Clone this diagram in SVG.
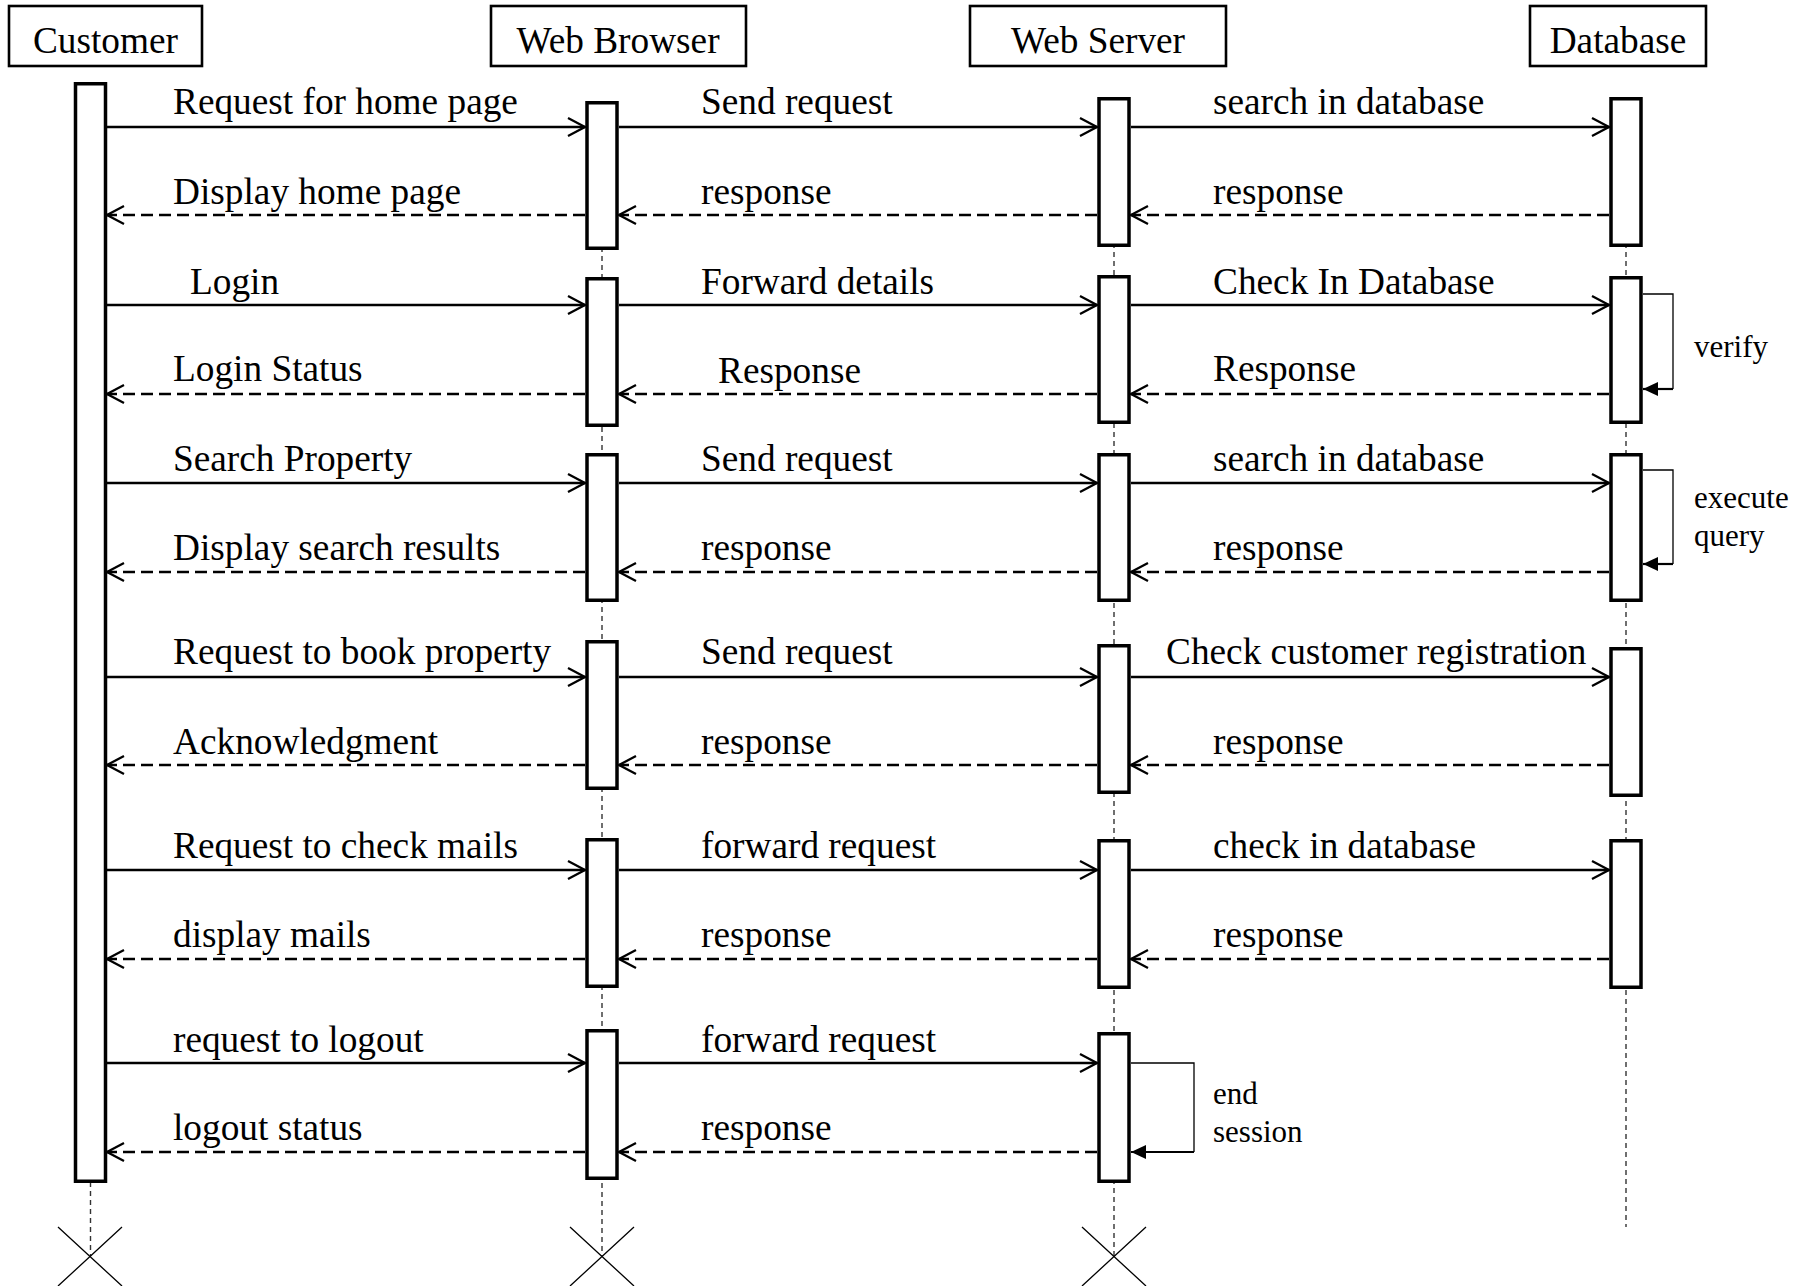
<svg xmlns="http://www.w3.org/2000/svg" width="1806" height="1286" viewBox="0 0 1806 1286">
<style>
.hdr{fill:#fff;stroke:#000;stroke-width:2.6}
.bar{fill:#fff;stroke:#000;stroke-width:3.5}
.life{stroke:#333;stroke-width:1.4;stroke-dasharray:5 4;fill:none}
.cross{stroke:#000;stroke-width:1.3;fill:none}
.msg{stroke:#000;stroke-width:2.3;fill:none;marker-end:url(#open)}
.ret{stroke:#000;stroke-width:2.4;fill:none;stroke-dasharray:12 6;marker-end:url(#open)}
.loop{stroke:#000;stroke-width:1.3;fill:none}
.loopend{stroke:#000;stroke-width:2.2;fill:none;marker-end:url(#solid)}
text{font-family:"Liberation Serif","Times New Roman",serif;fill:#000}
.t{font-size:37.3px}
.s{font-size:31px}
.h{font-size:37.3px;text-anchor:middle}
</style>
<defs>
<marker id="open" markerUnits="userSpaceOnUse" viewBox="0 0 22 22" markerWidth="22" markerHeight="22" refX="19" refY="11" orient="auto">
<path d="M2,2 L19,11 L2,20" fill="none" stroke="#000" stroke-width="2.3"/>
</marker>
<marker id="solid" markerUnits="userSpaceOnUse" viewBox="0 0 16 14" markerWidth="16" markerHeight="14" refX="15" refY="7" orient="auto">
<path d="M0,0 L15,7 L0,14 z" fill="#000"/>
</marker>
</defs>
<rect width="1806" height="1286" fill="#fff"/>

<g id="customer">
<line class="life" x1="90.5" y1="84" x2="90.5" y2="1256"/>
<rect class="hdr" x="9" y="6" width="193" height="60"/>
<text class="h" x="105.5" y="53">Customer</text>
<rect class="bar" x="75.5" y="83.75" width="30" height="1097.5"/>
<path class="cross" d="M58,1227 L122,1286 M122,1227 L58,1286"/>
</g>

<g id="web-browser">
<line class="life" x1="602" y1="103" x2="602" y2="1256"/>
<rect class="hdr" x="491" y="6" width="255" height="60"/>
<text class="h" x="618" y="53">Web Browser</text>
<rect class="bar" x="587" y="102.75" width="30" height="145.5"/>
<rect class="bar" x="587" y="278.75" width="30" height="146.5"/>
<rect class="bar" x="587" y="454.75" width="30" height="145.5"/>
<rect class="bar" x="587" y="641.75" width="30" height="146.5"/>
<rect class="bar" x="587" y="839.75" width="30" height="146.5"/>
<rect class="bar" x="587" y="1030.75" width="30" height="147.5"/>
<path class="cross" d="M570,1227 L634,1286 M634,1227 L570,1286"/>
</g>

<g id="web-server">
<line class="life" x1="1114" y1="99" x2="1114" y2="1256"/>
<rect class="hdr" x="970" y="6" width="256" height="60"/>
<text class="h" x="1098" y="53">Web Server</text>
<rect class="bar" x="1099" y="98.75" width="30" height="146.5"/>
<rect class="bar" x="1099" y="276.75" width="30" height="145.5"/>
<rect class="bar" x="1099" y="454.75" width="30" height="145.5"/>
<rect class="bar" x="1099" y="645.75" width="30" height="146.5"/>
<rect class="bar" x="1099" y="840.75" width="30" height="146.5"/>
<rect class="bar" x="1099" y="1033.75" width="30" height="147.5"/>
<path class="cross" d="M1082,1227 L1146,1286 M1146,1227 L1082,1286"/>
</g>

<g id="database">
<line class="life" x1="1626" y1="99" x2="1626" y2="1227"/>
<rect class="hdr" x="1530" y="6" width="176" height="60"/>
<text class="h" x="1618" y="53">Database</text>
<rect class="bar" x="1611" y="98.75" width="30" height="146.5"/>
<rect class="bar" x="1611" y="277.75" width="30" height="144.5"/>
<rect class="bar" x="1611" y="454.75" width="30" height="145.5"/>
<rect class="bar" x="1611" y="648.75" width="30" height="146.5"/>
<rect class="bar" x="1611" y="840.75" width="30" height="146.5"/>
</g>

<g id="connectors">
<line class="msg" x1="107" y1="127" x2="585" y2="127"/>
<line class="msg" x1="619" y1="127" x2="1097" y2="127"/>
<line class="msg" x1="1131" y1="127" x2="1609" y2="127"/>
<line class="ret" x1="1609" y1="215" x2="1131" y2="215"/>
<line class="ret" x1="1097" y1="215" x2="619" y2="215"/>
<line class="ret" x1="585" y1="215" x2="107" y2="215"/>

<line class="msg" x1="107" y1="305" x2="585" y2="305"/>
<line class="msg" x1="619" y1="305" x2="1097" y2="305"/>
<line class="msg" x1="1131" y1="305" x2="1609" y2="305"/>
<line class="ret" x1="1609" y1="394" x2="1131" y2="394"/>
<line class="ret" x1="1097" y1="394" x2="619" y2="394"/>
<line class="ret" x1="585" y1="394" x2="107" y2="394"/>
<path class="loop" d="M1643,294 H1673 V389"/>
<line class="loopend" x1="1673" y1="389" x2="1643" y2="389"/>

<line class="msg" x1="107" y1="483" x2="585" y2="483"/>
<line class="msg" x1="619" y1="483" x2="1097" y2="483"/>
<line class="msg" x1="1131" y1="483" x2="1609" y2="483"/>
<line class="ret" x1="1609" y1="572" x2="1131" y2="572"/>
<line class="ret" x1="1097" y1="572" x2="619" y2="572"/>
<line class="ret" x1="585" y1="572" x2="107" y2="572"/>
<path class="loop" d="M1643,470 H1673 V564"/>
<line class="loopend" x1="1673" y1="564" x2="1643" y2="564"/>

<line class="msg" x1="107" y1="677" x2="585" y2="677"/>
<line class="msg" x1="619" y1="677" x2="1097" y2="677"/>
<line class="msg" x1="1131" y1="677" x2="1609" y2="677"/>
<line class="ret" x1="1609" y1="765" x2="1131" y2="765"/>
<line class="ret" x1="1097" y1="765" x2="619" y2="765"/>
<line class="ret" x1="585" y1="765" x2="107" y2="765"/>

<line class="msg" x1="107" y1="870" x2="585" y2="870"/>
<line class="msg" x1="619" y1="870" x2="1097" y2="870"/>
<line class="msg" x1="1131" y1="870" x2="1609" y2="870"/>
<line class="ret" x1="1609" y1="959" x2="1131" y2="959"/>
<line class="ret" x1="1097" y1="959" x2="619" y2="959"/>
<line class="ret" x1="585" y1="959" x2="107" y2="959"/>

<line class="msg" x1="107" y1="1063" x2="585" y2="1063"/>
<line class="msg" x1="619" y1="1063" x2="1097" y2="1063"/>
<line class="ret" x1="1097" y1="1152" x2="619" y2="1152"/>
<line class="ret" x1="585" y1="1152" x2="107" y2="1152"/>
<path class="loop" d="M1131,1063 H1194 V1152"/>
<line class="loopend" x1="1194" y1="1152" x2="1131" y2="1152"/>
</g>

<g id="labels">
<text class="t" x="173" y="114">Request for home page</text>
<text class="t" x="701" y="114">Send request</text>
<text class="t" x="1213" y="114">search in database</text>
<text class="t" x="173" y="204">Display home page</text>
<text class="t" x="701" y="204">response</text>
<text class="t" x="1213" y="204">response</text>

<text class="t" x="190" y="294">Login</text>
<text class="t" x="701" y="294">Forward details</text>
<text class="t" x="1213" y="294">Check In Database</text>
<text class="t" x="173" y="381">Login Status</text>
<text class="t" x="718" y="383">Response</text>
<text class="t" x="1213" y="381">Response</text>
<text class="s" x="1694" y="357">verify</text>

<text class="t" x="173" y="471">Search Property</text>
<text class="t" x="701" y="471">Send request</text>
<text class="t" x="1213" y="471">search in database</text>
<text class="t" x="173" y="560">Display search results</text>
<text class="t" x="701" y="560">response</text>
<text class="t" x="1213" y="560">response</text>
<text class="s" x="1694" y="508">execute</text>
<text class="s" x="1694" y="546">query</text>

<text class="t" x="173" y="664">Request to book property</text>
<text class="t" x="701" y="664">Send request</text>
<text class="t" x="1166" y="664">Check customer registration</text>
<text class="t" x="173" y="754">Acknowledgment</text>
<text class="t" x="701" y="754">response</text>
<text class="t" x="1213" y="754">response</text>

<text class="t" x="173" y="858">Request to check mails</text>
<text class="t" x="701" y="858">forward request</text>
<text class="t" x="1213" y="858">check in database</text>
<text class="t" x="173" y="947">display mails</text>
<text class="t" x="701" y="947">response</text>
<text class="t" x="1213" y="947">response</text>

<text class="t" x="173" y="1052">request to logout</text>
<text class="t" x="701" y="1052">forward request</text>
<text class="t" x="173" y="1140">logout status</text>
<text class="t" x="701" y="1140">response</text>
<text class="s" x="1213" y="1104">end</text>
<text class="s" x="1213" y="1142">session</text>
</g>
</svg>
